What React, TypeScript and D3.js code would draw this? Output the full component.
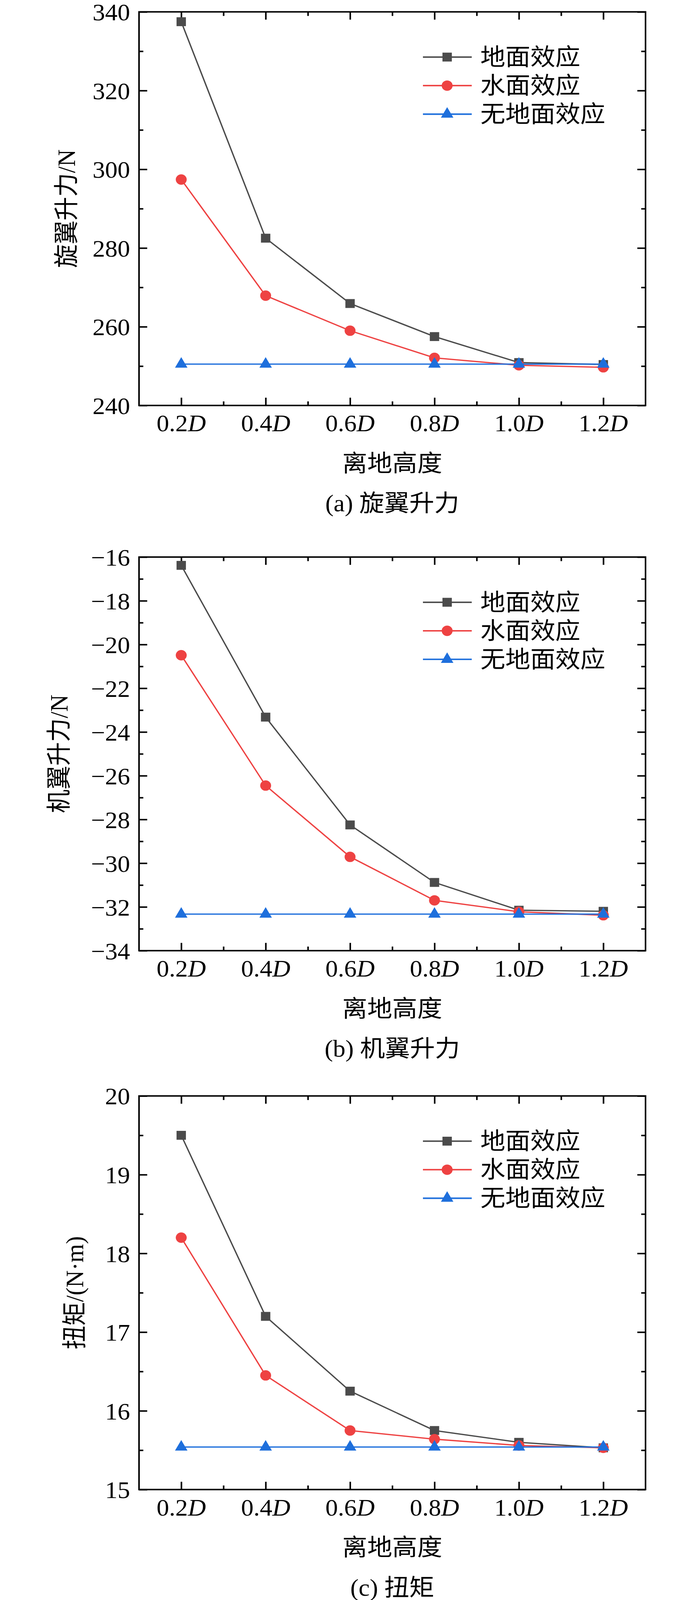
import React, { useRef, useEffect } from 'react';
import * as d3 from 'd3';

// 离地高度 (x categories)
const heights = [0.2, 0.4, 0.6, 0.8, 1.0, 1.2];
const heightLabels = ['0.2', '0.4', '0.6', '0.8', '1.0', '1.2'];
const heightMinor = [0.3, 0.5, 0.7, 0.9, 1.1];

const seriesNames = ['地面效应', '水面效应', '无地面效应'];
const seriesColors = ['#4b4b4b', '#ee4242', '#1e6fdc'];

// (a) 旋翼升力
const rotorGround = [337.5, 282.5, 265.9, 257.5, 250.9, 250.4];
const rotorWater = [297.4, 267.9, 259.0, 252.1, 250.2, 249.7];
const rotorNone = [250.5, 250.5, 250.5, 250.5, 250.5, 250.5];
const rotorTicks = [240, 260, 280, 300, 320, 340];
const rotorMinor = [250, 270, 290, 310, 330];

// (b) 机翼升力
const wingGround = [-16.38, -23.32, -28.25, -30.88, -32.15, -32.2];
const wingWater = [-20.49, -26.45, -29.71, -31.7, -32.22, -32.38];
const wingNone = [-32.33, -32.33, -32.33, -32.33, -32.33, -32.33];
const wingTicks = [-34, -32, -30, -28, -26, -24, -22, -20, -18, -16];
const wingMinor = [-33, -31, -29, -27, -25, -23, -21, -19, -17];

// (c) 扭矩
const torqueGround = [19.5, 17.2, 16.25, 15.75, 15.6, 15.53];
const torqueWater = [18.2, 16.45, 15.75, 15.64, 15.56, 15.53];
const torqueNone = [15.54, 15.54, 15.54, 15.54, 15.54, 15.54];
const torqueTicks = [15, 16, 17, 18, 19, 20];
const torqueMinor = [15.5, 16.5, 17.5, 18.5, 19.5];

const panels = [
  { top: 32, ticks: rotorTicks, minor: rotorMinor, series: [rotorGround, rotorWater, rotorNone], yLabel: '旋翼升力/N', caption: '(a) 旋翼升力', labelX: 170 },
  { top: 1503, ticks: wingTicks, minor: wingMinor, series: [wingGround, wingWater, wingNone], yLabel: '机翼升力/N', caption: '(b) 机翼升力', labelX: 151 },
  { top: 2957, ticks: torqueTicks, minor: torqueMinor, series: [torqueGround, torqueWater, torqueNone], yLabel: '扭矩/(N·m)', caption: '(c) 扭矩', labelX: 191 },
];

const FONT = "'Liberation Serif', 'Noto Sans CJK SC', serif";

const Chart = () => {
  const chartRef = useRef(null);

  useEffect(() => {
    const container = d3.select(chartRef.current);
    container.select('svg').remove();

    const width = 1772;
    const height = 4317;
    const left = 356;
    const right = 1653;
    const plotH = 1062;

    // fit the whole figure into the visible page height
    const svg = container
      .append('svg')
      .attr('viewBox', `0 0 ${width} ${height}`)
      .attr('preserveAspectRatio', 'none')
      .style('display', 'block')
      .style('width', width + 'px')
      .style('height', '100vh')
      .style('background', '#fff');

    const x = d3.scaleLinear().domain([0.1, 1.3]).range([left, right]);

    panels.forEach((p) => {
      const top = p.top;
      const bottom = top + plotH;
      const y = d3.scaleLinear().domain([p.ticks[0], p.ticks[p.ticks.length - 1]]).range([bottom, top]);
      const g = svg.append('g');

      const styleAxis = (sel: any) => {
        sel.select('.domain').remove();
        sel.selectAll('line').attr('stroke', '#000').attr('stroke-width', 4);
      };
      const none = () => '';

      // ticks on all four sides, pointing inward
      [
        [d3.axisBottom(x), `translate(0,${bottom})`, heights, heightMinor],
        [d3.axisTop(x), `translate(0,${top})`, heights, heightMinor],
        [d3.axisLeft(y), `translate(${left},0)`, p.ticks, p.minor],
        [d3.axisRight(y), `translate(${right},0)`, p.ticks, p.minor],
      ].forEach(([axis, tr, major, minor]: any) => {
        g.append('g').attr('transform', tr)
          .call(axis.tickValues(major).tickSize(-21).tickSizeOuter(0).tickFormat(none))
          .call(styleAxis);
        g.append('g').attr('transform', tr)
          .call(axis.tickValues(minor).tickSize(-11).tickSizeOuter(0).tickFormat(none))
          .call(styleAxis);
      });

      g.append('rect')
        .attr('x', left).attr('y', top)
        .attr('width', right - left).attr('height', plotH)
        .attr('fill', 'none').attr('stroke', '#000').attr('stroke-width', 4);

      // y tick labels
      g.selectAll('.ylab')
        .data(p.ticks)
        .enter()
        .append('text')
        .attr('x', left - 23)
        .attr('y', (d: number) => y(d))
        .attr('dy', '0.36em')
        .attr('text-anchor', 'end')
        .style('font-family', FONT)
        .style('font-size', '64px')
        .text((d: number) => (d < 0 ? '\u2212' + Math.abs(d) : String(d)));

      // x tick labels
      const xl = g.selectAll('.xlab')
        .data(heights)
        .enter()
        .append('text')
        .attr('x', (d: number) => x(d))
        .attr('y', bottom + 70)
        .attr('text-anchor', 'middle')
        .style('font-family', FONT)
        .style('font-size', '64px');
      xl.append('tspan').text((d: number, i: number) => heightLabels[i]);
      xl.append('tspan').style('font-style', 'italic').text('D');

      // axis titles
      g.append('text')
        .attr('x', (left + right) / 2)
        .attr('y', bottom + 156)
        .attr('dominant-baseline', 'central')
        .attr('text-anchor', 'middle')
        .style('font-family', FONT)
        .style('font-size', '64px')
        .text('离地高度');

      g.append('text')
        .attr('x', (left + right) / 2)
        .attr('y', bottom + 264)
        .attr('dominant-baseline', 'central')
        .attr('text-anchor', 'middle')
        .style('font-family', FONT)
        .style('font-size', '64px')
        .text(p.caption);

      g.append('text')
        .attr('transform', `translate(${p.labelX},${(top + bottom) / 2}) rotate(-90)`)
        .attr('dominant-baseline', 'central')
        .attr('text-anchor', 'middle')
        .style('font-family', FONT)
        .style('font-size', '64px')
        .text(p.yLabel);

      const drawMarker = (sel: any, i: number, color: string) => {
        if (i === 0) {
          sel.append('rect').attr('x', -12).attr('y', -12).attr('width', 24).attr('height', 24).attr('fill', color);
        } else if (i === 1) {
          sel.append('circle').attr('r', 14).attr('fill', color);
        } else {
          sel.append('path').attr('d', 'M0,-19L16,9.5L-16,9.5Z').attr('fill', color);
        }
      };

      const line = d3.line<number>()
        .x((d, i) => x(heights[i]))
        .y((d) => y(d));

      p.series.forEach((vals, si) => {
        const color = seriesColors[si];
        g.append('path')
          .datum(vals)
          .attr('d', line)
          .attr('fill', 'none')
          .attr('stroke', color)
          .attr('stroke-width', 3.5);
        vals.forEach((v, i) => {
          const m = g.append('g').attr('transform', `translate(${x(heights[i])},${y(v)})`);
          drawMarker(m, si, color);
        });
      });

      // legend
      seriesNames.forEach((name, si) => {
        const ly = top + 122 + si * 77;
        const color = seriesColors[si];
        g.append('line')
          .attr('x1', 1083).attr('x2', 1208)
          .attr('y1', ly).attr('y2', ly)
          .attr('stroke', color).attr('stroke-width', 4);
        const m = g.append('g').attr('transform', `translate(1145,${ly})`);
        drawMarker(m, si, color);
        g.append('text')
          .attr('x', 1230)
          .attr('y', ly)
          .attr('dominant-baseline', 'central')
          .style('font-family', FONT)
          .style('font-size', '64px')
          .text(name);
      });
    });
  }, []);

  return <div ref={chartRef}></div>;
};

export default function App() {
  return (
    <>
      <style>{'html, body { margin: 0; padding: 0; overflow: hidden; background: #fff; }'}</style>
      <Chart />
    </>
  );
}
